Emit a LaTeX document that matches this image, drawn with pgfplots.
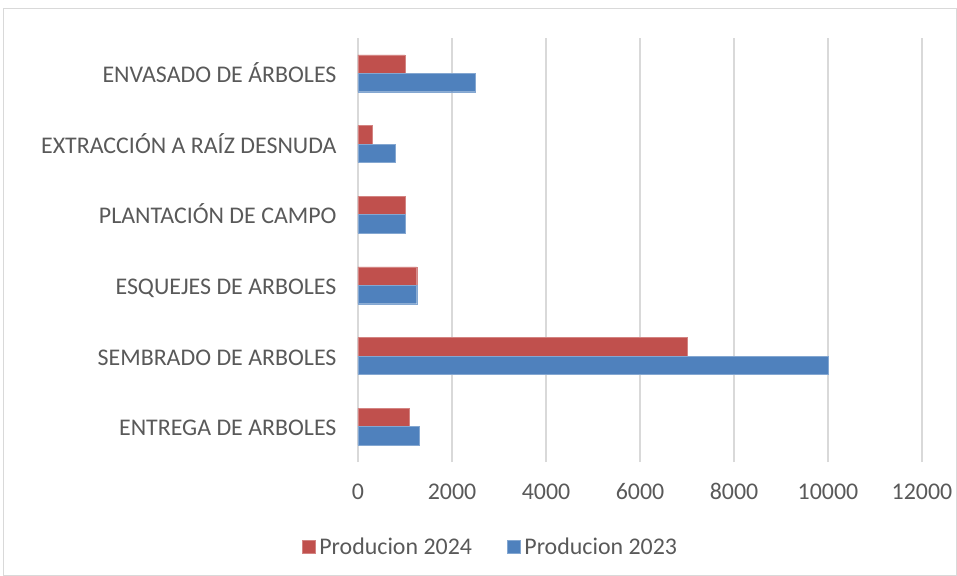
\documentclass[border=0pt]{standalone}
\usepackage{pgfplots}
\pgfplotsset{compat=1.18}
\usetikzlibrary{calc}
\usepackage{fontspec}
\setmainfont{Carlito}
\definecolor{barred}{HTML}{C0504D}
\definecolor{barblue}{HTML}{4F81BD}
\definecolor{gridgray}{HTML}{D9D9D9}
\definecolor{txtgray}{HTML}{595959}
\begin{document}
\begin{tikzpicture}
\begin{axis}[
  name=ax,
  scale only axis,
  width=564bp, height=424bp,
  xmin=0, xmax=12000,
  ymin=-0.5, ymax=5.5,
  xtick={0,2000,4000,6000,8000,10000,12000},
  scaled x ticks=false,
  ytick={0,1,2,3,4,5},
  yticklabels={ENTREGA DE ARBOLES,SEMBRADO DE ARBOLES,ESQUEJES DE ARBOLES,PLANTACIÓN DE CAMPO,EXTRACCIÓN A RAÍZ DESNUDA,ENVASADO DE ÁRBOLES},
  xmajorgrids,
  major grid style={gridgray, line width=1.5bp},
  axis line style={draw=none},
  major tick length=0pt,
  tick label style={font=\fontsize{24}{28}\selectfont, text=txtgray},
  /pgf/number format/assume math mode=true,
  /pgf/number format/1000 sep={},
  xticklabel style={yshift=-18bp},
  yticklabel style={xshift=-18bp, yshift=-6bp, text height=0.644em, text depth=0pt},
  xbar,
  bar width=0.26,
  legend style={at={(rel axis cs:0.2350,-0.200)}, anchor=center, draw=none, fill=none, font=\fontsize{24}{28}\selectfont, text=txtgray, legend columns=2, /tikz/every even column/.append style={column sep=33bp}, /tikz/every odd column/.append style={column sep=2bp}},
  legend image code/.code={\fill[#1] (0bp,-6.5bp) rectangle (13bp,6.5bp);},
]
\addplot[fill=barred, draw=barred!70!white, bar shift=0.13] coordinates {(1100,0) (7000,1) (1250,2) (1000,3) (300,4) (1000,5)};
\addlegendentry{Producion 2024}
\addplot[fill=barblue, draw=barblue!70!white, bar shift=-0.13] coordinates {(1300,0) (10000,1) (1250,2) (1000,3) (800,4) (2500,5)};
\addlegendentry{Producion 2023}
\end{axis}
\path ($(ax.south west)+(-358bp,-114bp)$) rectangle ($(ax.south west)+(599bp,462bp)$);
\draw[gridgray, line width=1bp] ($(ax.south west)+(-354.5bp,-113bp)$) rectangle ($(ax.south west)+(598bp,453bp)$);
\end{tikzpicture}
\end{document}
